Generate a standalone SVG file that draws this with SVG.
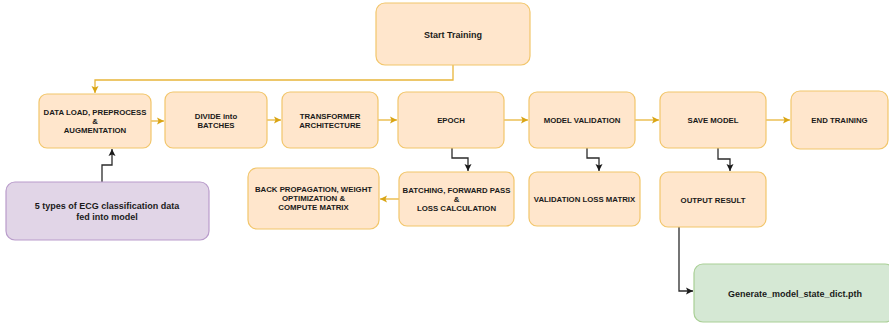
<svg xmlns="http://www.w3.org/2000/svg" width="889" height="328" viewBox="0 0 889 328">
  <style>
    .box { fill: #ffe6cc; stroke: #f2c66b; stroke-width: 1.2; }
    .purple { fill: #e1d5e7; stroke: #b99ccb; stroke-width: 1.2; }
    .green { fill: #d5e8d4; stroke: #a9cf95; stroke-width: 1.2; }
    .lbl { font-family: "Liberation Sans", Arial, sans-serif; font-weight: bold; font-size: 7.8px; fill: #1a1a1a; text-anchor: middle; }
    .big { font-size: 9px; }
    .flow { fill: none; stroke: #e8b53a; stroke-width: 1.3; }
    .dark { fill: none; stroke: #2b2b2b; stroke-width: 1.3; }
  </style>
  <defs>
    <marker id="arrY" markerWidth="8" markerHeight="8" refX="7" refY="4" orient="auto" markerUnits="userSpaceOnUse">
      <path d="M0,0.5 L7,4 L0,7.5 L1.5,4 Z" fill="#d9a514"/>
    </marker>
    <marker id="arrK" markerWidth="8" markerHeight="8" refX="7" refY="4" orient="auto" markerUnits="userSpaceOnUse">
      <path d="M0,0.5 L7,4 L0,7.5 L1.5,4 Z" fill="#1a1a1a"/>
    </marker>
  </defs>

  <!-- connectors -->
  <g id="connectors">
    <path class="flow" d="M453,65 V80 H95 V93" marker-end="url(#arrY)"/>
    <path class="flow" d="M151,121 H164" marker-end="url(#arrY)"/>
    <path class="flow" d="M267,120 H281" marker-end="url(#arrY)"/>
    <path class="flow" d="M378,120 H397" marker-end="url(#arrY)"/>
    <path class="flow" d="M504,120 H528" marker-end="url(#arrY)"/>
    <path class="flow" d="M635,120 H659" marker-end="url(#arrY)"/>
    <path class="flow" d="M766,120 H790" marker-end="url(#arrY)"/>
    <path class="flow" d="M399,199 H380" marker-end="url(#arrY)"/>
    <path class="dark" d="M452,148 V158 H468 V171" marker-end="url(#arrK)"/>
    <path class="dark" d="M587,148 V158 H599 V171" marker-end="url(#arrK)"/>
    <path class="dark" d="M718,148 V159 H730 V171" marker-end="url(#arrK)"/>
    <path class="dark" d="M679,227 V291 H693" marker-end="url(#arrK)"/>
    <path class="dark" d="M102,182 V165 H112 V149" marker-end="url(#arrK)"/>
  </g>

  <g id="start-training">
    <rect class="box" x="376" y="3" width="154" height="62" rx="9"/>
    <text class="lbl big" x="453" y="37.5">Start Training</text>
  </g>

  <g id="data-load">
    <rect class="box" x="39" y="94" width="112" height="54" rx="8"/>
    <text class="lbl" x="95" y="115">DATA LOAD, PREPROCESS</text>
    <text class="lbl" x="95" y="124">&amp;</text>
    <text class="lbl" x="95" y="133">AUGMENTATION</text>
  </g>

  <g id="divide-batches">
    <rect class="box" x="165" y="92" width="102" height="56" rx="8"/>
    <text class="lbl" x="216" y="119">DIVIDE into</text>
    <text class="lbl" x="216" y="128">BATCHES</text>
  </g>

  <g id="transformer">
    <rect class="box" x="282" y="92" width="96" height="56" rx="8"/>
    <text class="lbl" x="330" y="119">TRANSFORMER</text>
    <text class="lbl" x="330" y="128">ARCHITECTURE</text>
  </g>

  <g id="epoch">
    <rect class="box" x="398" y="92" width="106" height="56" rx="8"/>
    <text class="lbl" x="451" y="123">EPOCH</text>
  </g>

  <g id="model-validation">
    <rect class="box" x="529" y="92" width="106" height="56" rx="8"/>
    <text class="lbl" x="582" y="123">MODEL VALIDATION</text>
  </g>

  <g id="save-model">
    <rect class="box" x="660" y="92" width="106" height="56" rx="8"/>
    <text class="lbl" x="713" y="123">SAVE MODEL</text>
  </g>

  <g id="end-training">
    <rect class="box" x="791" y="91" width="97" height="58" rx="9"/>
    <text class="lbl" x="839.5" y="123">END TRAINING</text>
  </g>

  <g id="ecg-input">
    <rect class="purple" x="6" y="182" width="203" height="58" rx="9"/>
    <text class="lbl big" x="107" y="209">5 types of ECG classification data</text>
    <text class="lbl big" x="107" y="220">fed into model</text>
  </g>

  <g id="back-propagation">
    <rect class="box" x="248" y="168" width="131" height="61" rx="9"/>
    <text class="lbl" x="313.5" y="192">BACK PROPAGATION, WEIGHT</text>
    <text class="lbl" x="313.5" y="201">OPTIMIZATION &amp;</text>
    <text class="lbl" x="313.5" y="210">COMPUTE MATRIX</text>
  </g>

  <g id="batching-forward">
    <rect class="box" x="399" y="172" width="115" height="54" rx="8"/>
    <text class="lbl" x="456.5" y="193">BATCHING, FORWARD PASS</text>
    <text class="lbl" x="456.5" y="202">&amp;</text>
    <text class="lbl" x="456.5" y="211">LOSS CALCULATION</text>
  </g>

  <g id="validation-loss">
    <rect class="box" x="529" y="172" width="111" height="54" rx="8"/>
    <text class="lbl" x="584.5" y="202">VALIDATION LOSS MATRIX</text>
  </g>

  <g id="output-result">
    <rect class="box" x="660" y="172" width="106" height="55" rx="8"/>
    <text class="lbl" x="713" y="203">OUTPUT RESULT</text>
  </g>

  <g id="state-dict">
    <rect class="green" x="694" y="264" width="200" height="58" rx="9"/>
    <text class="lbl big" x="795" y="297">Generate_model_state_dict.pth</text>
  </g>
</svg>
